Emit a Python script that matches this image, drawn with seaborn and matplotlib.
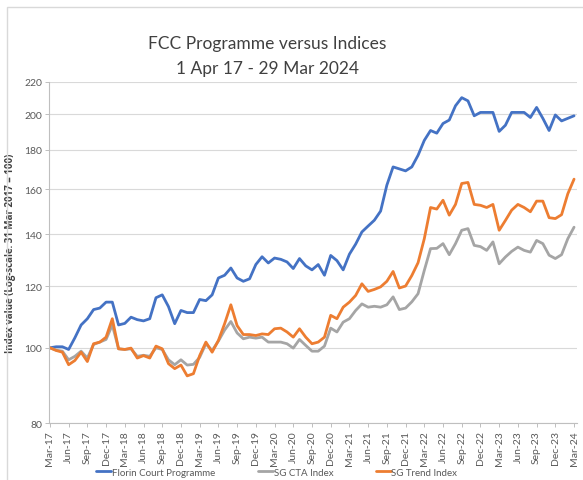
import numpy as np
import pandas as pd
import seaborn as sns
import matplotlib.pyplot as plt
from matplotlib.patches import Rectangle

# monthly index values, Mar-17 .. Mar-24 (85 points)
fcc = [100, 100.3, 100.3, 99.5, 103, 107, 109, 112, 112.5, 114.5,
       114.5, 107, 107.5, 109.5, 108.7, 108.3, 109, 116, 117, 113,
       107.4, 111.7, 111, 111, 115.4, 115, 117, 123, 124, 126.7,
       123, 121.8, 122.7, 128, 131, 128.6, 130.5, 130, 129, 126.5,
       130.3, 127.5, 126, 128, 124, 131.5, 129.5, 126, 132, 136,
       141, 143.5, 146, 150, 162, 171, 170, 169, 171, 177,
       185, 190.5, 189, 194.5, 196.5, 205, 210, 208, 199, 201,
       201, 201, 190, 193.5, 201, 201, 201, 198, 204, 197.5,
       190.5, 199.5, 196, 197.5, 199]

sg_cta = [100, 99.3, 99, 96.5, 97.5, 99, 97, 101, 101.7, 102.5,
          107, 99.7, 99.5, 99.7, 97.5, 97.8, 97.5, 100, 99.5, 96.5,
          95.1, 96.5, 95, 95.2, 97.2, 101.2, 99.2, 102, 105.4, 108.1,
          104.5, 102.7, 103.2, 102.9, 103.2, 101.7, 101.7, 101.7, 101.2, 99.9,
          102.5, 100.7, 99, 99, 100.5, 106, 104.8, 107.9, 109, 111.7,
          113.9, 112.8, 113.1, 112.8, 113.6, 116.3, 112, 112.5, 114.6, 117.4,
          125.8, 134.2, 134.3, 136.2, 131.8, 136.2, 141.7, 142.4, 135.5, 135,
          133.5, 136.9, 128.3, 130.9, 133.1, 134.8, 133.5, 132.8, 137.5, 136.2,
          131.6, 130.3, 131.8, 138.2, 143]

sg_trend = [100, 99.2, 98.7, 95.1, 96.3, 98.7, 96, 101.2, 101.7, 103.2,
            109, 99.7, 99.5, 99.9, 97, 97.7, 97, 100.5, 99.7, 95.4,
            94, 95, 92, 92.6, 97.7, 101.7, 98.7, 102.2, 107.4, 113.6,
            106.8, 104, 104, 103.7, 104.2, 104, 105.8, 106, 104.8, 103.2,
            105.8, 103.2, 101.2, 101.7, 103.2, 110.1, 109, 112.8, 114.5, 116.8,
            120.9, 118.2, 118.9, 119.8, 121.8, 125.4, 119.4, 120.1, 123.9, 128.7,
            138.2, 151.6, 150.9, 154.9, 148.2, 153, 162.8, 163.3, 153, 152.6,
            151.6, 153, 141.7, 145.9, 150.4, 153, 151.6, 149.7, 154.5, 154.5,
            147.1, 146.7, 148.4, 157.9, 164.9]

tick_labels = ["Mar-17", "Jun-17", "Sep-17", "Dec-17", "Mar-18", "Jun-18", "Sep-18", "Dec-18",
               "Mar-19", "Jun-19", "Sep-19", "Dec-19", "Mar-20", "Jun-20", "Sep-20", "Dec-20",
               "Mar-21", "Jun-21", "Sep-21", "Dec-21", "Mar-22", "Jun-22", "Sep-22", "Dec-22",
               "Mar-23", "Jun-23", "Sep-23", "Dec-23", "Mar-24"]
y_ticks = [80, 100, 120, 140, 160, 180, 200, 220]

series_names = ["Florin Court Programme", "SG CTA Index", "SG Trend Index"]
colors = ["#4472C4", "#A5A5A5", "#ED7D31"]

df = pd.DataFrame({"month": np.arange(len(fcc)),
                   series_names[0]: fcc,
                   series_names[1]: sg_cta,
                   series_names[2]: sg_trend})
long_df = df.melt(id_vars="month", var_name="series", value_name="value")

sns.set_style("white")
plt.rcParams['font.family'] = ['Lato', 'DejaVu Sans']

fig = plt.figure(figsize=(5.83, 4.81), dpi=100)
ax = fig.add_axes([0.084, 0.1185, 0.906, 0.709])

sns.lineplot(data=long_df, x="month", y="value", hue="series",
             hue_order=series_names, palette=colors, linewidth=2.0, ax=ax)

ax.set_yscale("log")
ax.set_ylim(80, 220)
ax.set_yticks(y_ticks)
ax.set_yticklabels([str(v) for v in y_ticks])
ax.yaxis.set_minor_locator(plt.NullLocator())
ax.set_xlim(-0.15, 84.5)
ax.set_xticks(np.arange(0, 85, 3))
ax.set_xticklabels(tick_labels, rotation=90)
ax.xaxis.set_minor_locator(plt.NullLocator())

ax.grid(axis="y", color="#D9D9D9", linewidth=0.8)
ax.set_axisbelow(True)
for s in ["top", "right"]:
    ax.spines[s].set_visible(False)
ax.spines["left"].set_color("#BFBFBF")
ax.spines["bottom"].set_color("#BFBFBF")
ax.tick_params(axis="both", length=3, width=0.7, color="#BFBFBF",
               labelsize=7.5, labelcolor="#595959", direction="out",
               left=True, bottom=True, pad=2)

ax.set_xlabel("")
ax.set_ylabel("Index value (Log-scale. 31 Mar 2017 = 100)", fontsize=7,
              fontweight="bold", family=["Open Sans", "DejaVu Sans"],
              color="#404040", labelpad=6)

fig.text(0.458, 0.908, "FCC Programme versus Indices", ha="center", va="center",
         fontsize=12.5, color="#404040")
fig.text(0.458, 0.857, "1 Apr 17 - 29 Mar 2024", ha="center", va="center",
         fontsize=12.5, color="#404040")

ax.legend(loc="center", bbox_to_anchor=(0.475, 0.016), bbox_transform=fig.transFigure,
          ncol=3, frameon=False, fontsize=7, handlelength=1.55, handletextpad=0.05,
          columnspacing=4.4, labelcolor="#595959", borderpad=0.1)

fig.patches.append(Rectangle((0.012, -0.1), 1.2, 1.083, transform=fig.transFigure,
                             fill=False, edgecolor="#D9D9D9", linewidth=1.0))

fig.savefig("out.png", dpi=100)
